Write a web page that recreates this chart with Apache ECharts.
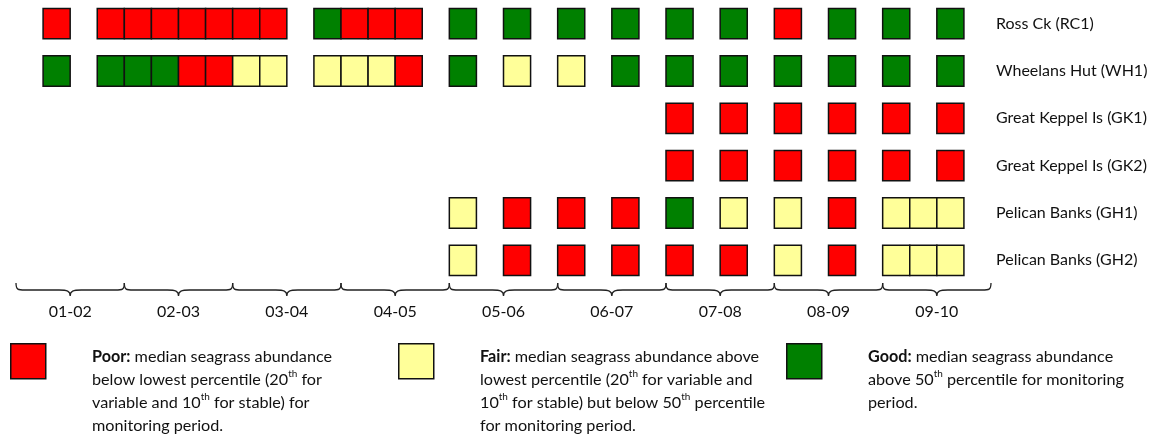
<!DOCTYPE html>
<html><head><meta charset="utf-8">
<script src="https://cdn.jsdelivr.net/npm/echarts@6/dist/echarts.min.js"></script>
<style>html,body{margin:0;padding:0;background:#fff}#c{width:1156px;height:441px}</style>
</head><body><div id="c"></div>
<script>
// Sites (rows, top to bottom)
const sites = ['Ross Ck (RC1)', 'Wheelans Hut (WH1)', 'Great Keppel Is (GK1)', 'Great Keppel Is (GK2)', 'Pelican Banks (GH1)', 'Pelican Banks (GH2)'];
// Monitoring periods (4 sampling slots each)
const periods = ['01-02', '02-03', '03-04', '04-05', '05-06', '06-07', '07-08', '08-09', '09-10'];
// Status per sampling slot, one string of 4 slots per period: P = poor, F = fair, G = good, - = no sample
const RC1 = ['-P-P', 'PPPP', 'PP-G', 'PPP-', 'G-G-', 'G-G-', 'G-G-', 'P-G-', 'G-G-'];
const WH1 = ['-G-G', 'GGPP', 'FF-F', 'FFP-', 'G-F-', 'F-G-', 'G-G-', 'G-G-', 'G-G-'];
const GK1 = ['----', '----', '----', '----', '----', '----', 'P-P-', 'P-P-', 'P-P-'];
const GK2 = ['----', '----', '----', '----', '----', '----', 'P-P-', 'P-P-', 'P-P-'];
const GH1 = ['----', '----', '----', '----', 'F-P-', 'P-P-', 'G-F-', 'F-P-', 'FFF-'];
const GH2 = ['----', '----', '----', '----', 'F-P-', 'P-P-', 'P-P-', 'F-P-', 'FFF-'];

const statusColors = { P: '#FF0000', F: '#FFFF99', G: '#008000' };
const siteStatus = [RC1, WH1, GK1, GK2, GH1, GH2];
const slotsPerPeriod = 4;
const nSlots = periods.length * slotsPerPeriod;

const cells = [];
siteStatus.forEach((row, r) => {
  row.join('').split('').forEach((s, slot) => {
    if (s !== '-') cells.push([slot, r, s]);
  });
});

const FONT = 'Lato';
const TXT = '#111';
const chart = echarts.init(document.getElementById('c'));

const LF = 16.2;
const legendRich = {
  b: { fontFamily: FONT, fontWeight: 'bold', fontSize: LF, lineHeight: 23, fill: TXT },
  n: { fontFamily: FONT, fontSize: LF, lineHeight: 23, fill: TXT },
  s: { fontFamily: FONT, fontSize: 10, lineHeight: 16, verticalAlign: 'top', fill: TXT }
};
const legendItems = [
  { key: 'P', box: [10, 343], text: [92, 349],
    str: '{b|Poor:}{n| median seagrass abundance}\n{n|below lowest percentile (20}{s|th}{n| for}\n{n|variable and 10}{s|th}{n| for stable) for}\n{n|monitoring period.}' },
  { key: 'F', box: [398, 343], text: [480, 349],
    str: '{b|Fair:}{n| median seagrass abundance above}\n{n|lowest percentile (20}{s|th}{n| for variable and}\n{n|10}{s|th}{n| for stable) but below 50}{s|th}{n| percentile}\n{n|for monitoring period.}' },
  { key: 'G', box: [786, 343], text: [868, 349],
    str: '{b|Good:}{n| median seagrass abundance}\n{n|above 50}{s|th}{n| percentile for monitoring}\n{n|period.}' }
];
const graphic = [];
legendItems.forEach(it => {
  graphic.push({ type: 'rect', left: it.box[0], top: it.box[1], shape: { width: 35, height: 35 },
    style: { fill: statusColors[it.key], stroke: '#111', lineWidth: 1.5 } });
  graphic.push({ type: 'text', left: it.text[0], top: it.text[1], style: { text: it.str, rich: legendRich } });
});

chart.setOption({
  animation: false,
  grid: { left: 16, right: 165, top: 0, height: 284 },
  xAxis: [
    { type: 'value', min: 0, max: nSlots, show: false },
    { type: 'category', data: periods, position: 'bottom', axisLine: { show: false }, axisTick: { show: false },
      splitLine: { show: false }, axisLabel: { margin: 20, fontFamily: FONT, fontSize: 16, color: TXT } }
  ],
  yAxis: { type: 'category', data: sites, inverse: true, position: 'right',
    axisLine: { show: false }, axisTick: { show: false }, splitLine: { show: false },
    axisLabel: { margin: 5, align: 'left', fontFamily: FONT, fontSize: 16, color: TXT } },
  graphic: graphic,
  series: [
    {
      type: 'custom', xAxisIndex: 0, yAxisIndex: 0, data: cells, clip: false,
      renderItem: (params, api) => {
        const cell = cells[params.dataIndex];
        const p = api.coord([cell[0], cell[1]]);
        const sz = api.size([1, 1]);
        const h = sz[1] * 0.64;
        return { type: 'rect', shape: { x: p[0], y: p[1] - h / 2, width: sz[0], height: h },
          style: { fill: statusColors[cell[2]], stroke: '#111', lineWidth: 1.5 } };
      }
    },
    {
      type: 'custom', xAxisIndex: 1, yAxisIndex: 0, clip: false,
      data: periods.map((p, i) => [i, 0]),
      renderItem: (params, api) => {
        const c = api.coord([api.value(0), 0]);
        const w = api.size([1, 0])[0];
        const cs = params.coordSys;
        const base = cs.y + cs.height;
        const x0 = c[0] - w / 2, x1 = c[0] + w / 2, xc = c[0];
        const yT = base - 1, yM = base + 6, yB = base + 12, r = 9, rc = 11;
        const d = `M${x0},${yT} C${x0},${yM} ${x0 + 2},${yM} ${x0 + r},${yM} L${xc - rc},${yM} C${xc - 3},${yM} ${xc},${yM + 1} ${xc},${yB} C${xc},${yM + 1} ${xc + 3},${yM} ${xc + rc},${yM} L${x1 - r},${yM} C${x1 - 2},${yM} ${x1},${yM} ${x1},${yT}`;
        return { type: 'path', shape: { pathData: d }, style: { fill: 'none', stroke: '#222', lineWidth: 1.3 } };
      }
    }
  ]
});
</script></body></html>
